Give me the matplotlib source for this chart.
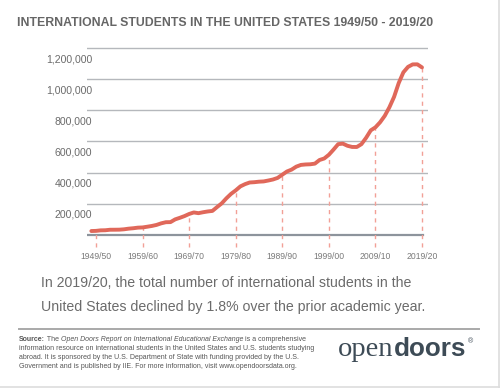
import numpy as np
import matplotlib.pyplot as plt
from matplotlib.transforms import blended_transform_factory, ScaledTranslation

# academic years 1948/49 .. 2019/20, keyed by starting year
start_year = np.arange(1948, 2020)
students = [
    25464, 26433, 29813, 30462, 33675, 33833, 34232, 36494, 40666, 43391,
    47245, 48486, 53107, 58086, 64705, 74814, 82045, 82709, 100262, 110315,
    121362, 134959, 144708, 140126, 146097, 151066, 154580, 179344, 203068, 235509,
    263938, 286343, 311882, 326299, 336985, 338894, 342113, 343777, 349609, 356187,
    366354, 386851, 407529, 419585, 438618, 449749, 452653, 453787, 457984, 481280,
    490933, 514723, 547867, 582996, 586323, 572509, 565039, 564766, 582984, 623805,
    671616, 690923, 723277, 764495, 819644, 886052, 974926, 1043839, 1078822, 1094792,
    1095299, 1075496,
]
tick_years = [1949, 1959, 1969, 1979, 1989, 1999, 2009, 2019]
tick_labels = ['1949/50', '1959/60', '1969/70', '1979/80',
               '1989/90', '1999/00', '2009/10', '2019/20']
y_values = [200000, 400000, 600000, 800000, 1000000, 1200000]
y_labels = ['200,000', '400,000', '600,000', '800,000', '1,000,000', '1,200,000']

title = 'INTERNATIONAL STUDENTS IN THE UNITED STATES 1949/50 - 2019/20'
body = ('In 2019/20, the total number of international students in the\n'
        'United States declined by 1.8% over the prior academic year.')

plt.rcParams['font.family'] = ['Liberation Sans', 'DejaVu Sans']

line_color = '#e0685a'
dash_color = '#f2a097'
text_gray = '#6b6b6b'

fig = plt.figure(figsize=(5.0, 3.88), dpi=100)
fig.patch.set_facecolor('white')

# plot area: pixels x 87..428, y 44..250
ax = fig.add_axes([87 / 500, 1 - 250 / 388, 341 / 500, 206 / 388])
ax.set_xlim(1947.07, 2020.29)
ax.set_ylim(-96260, 1225670)
ax.axis('off')

# gridlines
for v in y_values:
    ax.axhline(v, color='#b5b8bc', lw=1.0, zorder=1)
ax.axhline(0, xmax=0.985, color='#8d949c', lw=1.6, zorder=1)

# dashed drop lines at each decade
vals = dict(zip(start_year, students))
ax.vlines(tick_years, -77000, [vals[y] for y in tick_years],
          colors=dash_color, linestyles=(0, (3, 3)), lw=1.0, zorder=2)

ax.plot(start_year, students, color=line_color, lw=2.8,
        solid_capstyle='round', solid_joinstyle='round', zorder=3)

# y labels sit just below their gridlines
ytrans = blended_transform_factory(ax.transAxes, ax.transData) + \
    ScaledTranslation(0.05, -0.11, fig.dpi_scale_trans)
for v, lab in zip(y_values, y_labels):
    ax.text(0, v, lab, transform=ytrans, ha='right', va='center',
            fontsize=7.6, color=text_gray)

xtrans = blended_transform_factory(ax.transData, ax.transAxes)
for x, lab in zip(tick_years, tick_labels):
    ax.text(x, -0.03, lab, transform=xtrans, ha='center', va='center',
            fontsize=6.2, color='#7a7a7a')

fig.text(17 / 500, 1 - 23 / 388, title, ha='left', va='center',
         fontsize=8.8, fontweight='bold', color='#666666')

fig.text(41 / 500, 1 - 295 / 388, body, ha='left', va='center',
         fontsize=10.2, color=text_gray, linespacing=1.85)

# separator
fig.add_artist(plt.Line2D([19 / 500, 479 / 500], [1 - 329 / 388] * 2,
                          color='#a9a9a9', lw=1.4))

# source note, mixed styles on first line
src_kw = dict(fontsize=5.08, color='#555555', va='baseline')
t0 = fig.text(19 / 500, 1 - 341 / 388, 'Source:', fontweight='bold', **src_kw)
t1 = fig.text(0, 0, ' The ', **src_kw)
t2 = fig.text(0, 0, 'Open Doors Report on International Educational Exchange',
              style='italic', **src_kw)
t3 = fig.text(0, 0, ' is a comprehensive', **src_kw)
fig.canvas.draw()
r = fig.canvas.get_renderer()
prev = t0
for t in (t1, t2, t3):
    bb = prev.get_window_extent(r)
    t.set_position((bb.x1 / fig.bbox.width, prev.get_position()[1]))
    prev = t
rest = ['information resource on international students in the United States and U.S. students studying',
        'abroad. It is sponsored by the U.S. Department of State with funding provided by the U.S.',
        'Government and is published by IIE. For more information, visit www.opendoorsdata.org.']
for i, line in enumerate(rest):
    fig.text(19 / 500, 1 - (350 + 9 * i) / 388, line, **src_kw)

# logo
logo_color = '#3d4b56'
lo = fig.text(338 / 500, 1 - 356 / 388, 'open', fontsize=20.5, color=logo_color,
              family='Liberation Serif', va='baseline')
fig.canvas.draw()
bb = lo.get_window_extent(fig.canvas.get_renderer())
ld = fig.text(bb.x1 / 500, 1 - 356 / 388, 'doors', fontsize=18.8, color=logo_color,
              fontweight='bold', va='baseline')
fig.canvas.draw()
bb = ld.get_window_extent(fig.canvas.get_renderer())
fig.text(bb.x1 / 500 + 0.003, 1 - 342 / 388, '\u00ae', fontsize=5,
         color=logo_color, va='center')

# faint frame at right and bottom
fig.add_artist(plt.Line2D([0, 1], [1.5 / 388] * 2, color='#dddddd', lw=1.2))
fig.add_artist(plt.Line2D([1 - 1.5 / 500] * 2, [0, 1], color='#dddddd', lw=1.2))

fig.savefig('out.png', dpi=100, facecolor='white')
